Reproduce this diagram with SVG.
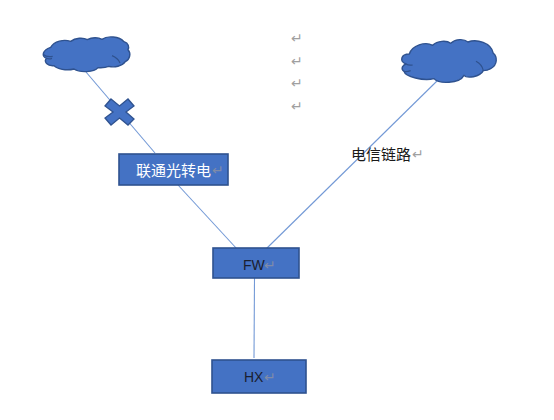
<svg xmlns="http://www.w3.org/2000/svg" width="554" height="420" viewBox="0 0 554 420">
<style>
.box{fill:#4472c4;stroke:#2f528f;stroke-width:1.6}
.cloud{fill:#4472c4;stroke:#2f528f;stroke-width:4.2;stroke-linejoin:round}
.in{fill:none;stroke:#2f528f;stroke-width:3.6}
.link{stroke:#7399d6;stroke-width:1.1;fill:none}
.t{font-family:"Liberation Sans","Noto Sans CJK SC",sans-serif;font-size:14px;fill:#1a2030}
.cn{font-family:"Noto Sans CJK SC","Liberation Sans",sans-serif;font-size:15px}
.r{font-family:"DejaVu Sans",sans-serif;font-size:14px;fill:#a0a0a0}
</style>
<rect width="554" height="420" fill="#fff"/>
<g id="connectors">
<line class="link" x1="86" y1="72" x2="155" y2="153"/>
<line class="link" x1="178" y1="185" x2="237" y2="249"/>
<line class="link" x1="438" y1="80" x2="266" y2="249"/>
<line class="link" x1="254.500" y1="278" x2="254" y2="358"/>
</g>
<g id="cloud-left" transform="translate(30 25) scale(.3333)">
<path class="cloud" d="M62 67C72 48 102 42 122 49C136 38 160 37 172 44C186 36 206 37 216 43C232 31 268 34 282 50C296 54 298 66 294 74C304 84 300 104 286 110C276 124 254 128 236 124C222 130 210 128 204 128C192 142 150 144 132 132C110 138 80 132 72 122C52 124 40 110 50 100C34 94 36 76 62 67Z"/>
<path class="in" d="M40 88C46 94 58 96 68 94M246 92C256 96 266 104 270 114M50 100C54 102 60 102 66 100"/>
</g>
<g id="cloud-right" transform="translate(280 20) scale(.3333)">
<path class="cloud" d="M388 102C396 76 436 64 458 76C472 62 500 60 512 70C528 56 552 56 564 66C590 56 634 68 640 100C652 110 654 134 632 146C622 152 612 152 610 152C600 172 560 176 552 166C538 192 476 192 462 176C430 184 376 170 372 154C360 146 370 134 378 132C358 124 362 102 388 102Z"/>
<path class="in" d="M378 132C384 136 392 136 398 135M588 124C600 130 608 142 610 152M372 154C378 156 386 154 392 152"/>
</g>
<g id="x-mark">
<path class="box" style="stroke-width:1.3" d="M111 99L119.500 106L128 99L134 106L126 112L134 119L128 125L119.500 118L111 125L105 118L113 112L105 106Z"/>
</g>
<g id="node-liantong">
<rect class="box" x="119" y="154" width="109" height="31"/>
<text class="cn" x="136" y="176" fill="#fff">联通光转电</text>
<text class="r" x="212" y="175" style="fill:#7f8ba8">↵</text>
</g>
<g id="node-fw">
<rect class="box" x="213" y="248" width="86" height="30"/>
<text class="t" x="243" y="270">FW</text>
<text class="r" x="264" y="270" style="fill:#7f8ba8">↵</text>
</g>
<g id="node-hx">
<rect class="box" x="212" y="360" width="94" height="33"/>
<text class="t" x="244" y="382">HX</text>
<text class="r" x="264" y="382" style="fill:#7f8ba8">↵</text>
</g>
<g id="label-telecom">
<text class="cn" x="351" y="160" fill="#1a1a1a">电信链路</text>
<text class="r" x="412" y="159">↵</text>
</g>
<g id="marks">
<text class="r" x="291" y="43">↵</text>
<text class="r" x="291" y="66">↵</text>
<text class="r" x="291" y="88">↵</text>
<text class="r" x="291" y="111">↵</text>
</g>
</svg>
